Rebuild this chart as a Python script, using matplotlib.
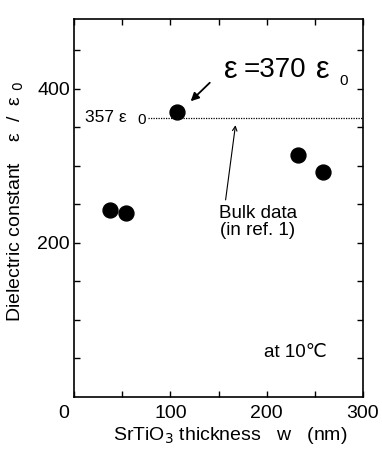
import matplotlib
matplotlib.use('Agg')
import matplotlib.pyplot as plt
import matplotlib.transforms as mtransforms

# Data
thickness = [37, 54, 107, 233, 259]
eps_rel = [242, 238, 370, 314, 292]
bulk_eps = 362
bulk_x = [77, 300]

x_ticks = [0, 100, 200, 300]
y_ticks = [200, 400]

plt.rcParams['font.family'] = ['Liberation Sans', 'DejaVu Sans']

fig = plt.figure(figsize=(3.82, 4.55), dpi=100)
ax = fig.add_axes([0.194, 0.1275, 0.756, 0.8305])

# bulk reference line
ax.plot(bulk_x, [bulk_eps, bulk_eps], color='black', linestyle=(0, (1, 1)), linewidth=0.9)

# measured points
ax.scatter(thickness, eps_rel, s=115, color='black', zorder=3)

ax.set_xlim(0, 300)
ax.set_ylim(0, 490)
ax.set_xticks(x_ticks)
ax.set_yticks(y_ticks)
ax.set_xticks(range(50, 300, 100), minor=True)
ax.set_yticks([50, 100, 150, 250, 300, 350, 450], minor=True)
ax.tick_params(which='both', direction='in', top=True, right=True, labelsize=14, length=4, width=1)
ax.tick_params(axis='x', pad=6)
ax.tick_params(axis='y', pad=3)
for s in ax.spines.values():
    s.set_linewidth(1.2)

# the "0" at the corner sits a bit to the left
lbl0 = ax.get_xticklabels()[0]
lbl0.set_transform(lbl0.get_transform() + mtransforms.ScaledTranslation(-0.1, 0, fig.dpi_scale_trans))

ax.set_xlabel('SrTiO$_3$ thickness   w   (nm)', fontsize=14, labelpad=2, x=0.54)
fig.text(16 / 382, 1 - 202 / 455, 'Dielectric constant    \u03b5  /  \u03b5 ${}_0$', fontsize=14,
         rotation=90, ha='center', va='center')

# labels and annotations
ax.text(11.5, bulk_eps, '357 \u03b5', fontsize=12.5, ha='left', va='center')
ax.text(70, bulk_eps - 3, '0', fontsize=11, ha='center', va='center')

ax.text(162.5, 424, '\u03b5', fontsize=22, ha='center', va='center')
ax.text(176, 424, '=370', fontsize=20, ha='left', va='center')
ax.text(258, 424, '\u03b5', fontsize=22, ha='center', va='center')
ax.text(280, 410, '0', fontsize=11, ha='center', va='center')
ax.annotate('', xy=(119, 381), xytext=(143, 410),
            arrowprops=dict(arrowstyle='-|>', color='black', lw=1.3, mutation_scale=12))

ax.text(191, 227, 'Bulk data\n(in ref. 1)', fontsize=13.5, ha='center', va='center', linespacing=1.05)
ax.annotate('', xy=(168, 356), xytext=(157, 252),
            arrowprops=dict(arrowstyle='->', color='black', lw=0.8, mutation_scale=8))

ax.text(197, 58, 'at 10\u2103', fontsize=13.5, ha='left', va='center')

fig.savefig('out.png', dpi=100)
